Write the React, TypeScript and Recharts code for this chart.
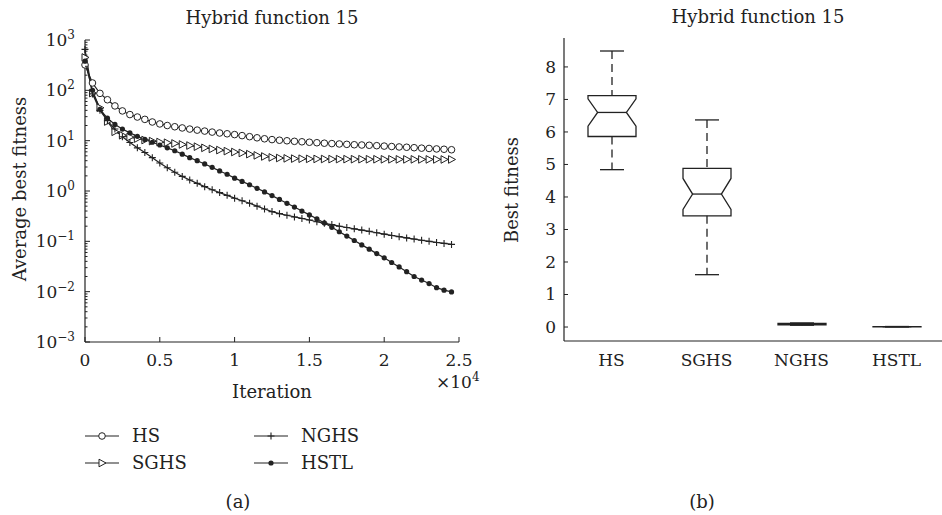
import React from 'react'
import { LineChart, Line, XAxis, YAxis, ComposedChart, Bar } from 'recharts'

// (a) convergence curves, one point every 500 iterations
const iterations = [
  0, 500, 1000, 1500, 2000, 2500, 3000, 3500, 4000, 4500,
  5000, 5500, 6000, 6500, 7000, 7500, 8000, 8500, 9000, 9500,
  10000, 10500, 11000, 11500, 12000, 12500, 13000, 13500, 14000, 14500,
  15000, 15500, 16000, 16500, 17000, 17500, 18000, 18500, 19000, 19500,
  20000, 20500, 21000, 21500, 22000, 22500, 23000, 23500, 24000, 24500,
]
const hsFitness = [
  320, 140, 87, 65, 49, 39, 33, 29.5, 26.5, 23.5,
  21.5, 20, 18.9, 17.9, 17, 16.2, 15.5, 14.8, 14.2, 13.7,
  13.2, 12.6, 12, 11.4, 10.9, 10.5, 10.2, 9.95, 9.7, 9.5,
  9.3, 9.1, 8.9, 8.75, 8.6, 8.45, 8.3, 8.2, 8.1, 7.95,
  7.8, 7.65, 7.5, 7.4, 7.25, 7.1, 7, 6.85, 6.75, 6.6,
]
const sghsFitness = [
  450, 88, 45, 24, 15, 12.8, 11.8, 11, 10.3, 9.8,
  9.4, 9.1, 8.8, 8.4, 8, 7.6, 7.2, 6.85, 6.5, 6.2,
  5.95, 5.7, 5.4, 5.1, 4.85, 4.65, 4.52, 4.45, 4.4, 4.38,
  4.35, 4.33, 4.32, 4.3, 4.3, 4.29, 4.28, 4.28, 4.27, 4.27,
  4.26, 4.26, 4.25, 4.25, 4.25, 4.24, 4.24, 4.24, 4.23, 4.23,
]
const nghsFitness = [
  650, 85, 40, 25, 17, 12, 9.2, 7.2, 5.8, 4.6,
  3.6, 2.9, 2.35, 1.95, 1.65, 1.42, 1.22, 1.06, 0.93, 0.82,
  0.72, 0.64, 0.57, 0.5, 0.44, 0.39, 0.355, 0.33, 0.305, 0.285,
  0.265, 0.245, 0.228, 0.215, 0.2, 0.188, 0.177, 0.167, 0.158, 0.148,
  0.139, 0.131, 0.124, 0.117, 0.111, 0.105, 0.1, 0.095, 0.091, 0.087,
]
const hstlFitness = [
  380, 100, 42, 28, 21, 17, 14.3, 12.2, 10.6, 9.3,
  8.2, 7.2, 6.3, 5.4, 4.6, 4, 3.45, 2.95, 2.5, 2.15,
  1.8, 1.55, 1.33, 1.13, 0.96, 0.81, 0.68, 0.57, 0.48, 0.4,
  0.335, 0.28, 0.232, 0.19, 0.155, 0.127, 0.104, 0.085, 0.07, 0.057,
  0.047, 0.038, 0.031, 0.025, 0.02, 0.017, 0.0145, 0.012, 0.0107, 0.0099,
]

const iterationTicks = [0, 5000, 10000, 15000, 20000, 25000]
const iterationTickLabels = ['0', '0.5', '1', '1.5', '2', '2.5']
const decadeTicks = [0.001, 0.01, 0.1, 1, 10, 100, 1000]
const decadeExponents = ['−3', '−2', '−1', '0', '1', '2', '3']
const minorSteps = [2, 3, 4, 5, 6, 7, 8, 9]

// (b) box plot of best fitness
const boxNames = ['HS', 'SGHS', 'NGHS', 'HSTL']
const boxMin = [4.84, 1.61, 0.055, 0.004]
const boxQ1 = [5.86, 3.42, 0.07, 0.007]
const boxNotchLow = [6.18, 3.62, 0.08, 0.009]
const boxMedian = [6.6, 4.09, 0.09, 0.01]
const boxNotchHigh = [7.02, 4.57, 0.1, 0.011]
const boxQ3 = [7.12, 4.88, 0.11, 0.013]
const boxMax = [8.49, 6.37, 0.125, 0.016]
const fitnessTicks = [0, 1, 2, 3, 4, 5, 6, 7, 8]

const FONT = '"DejaVu Serif", serif'
const INK = '#222'
const FS = 18
const TICK_FS = 17

const minorTicks = decadeTicks
  .slice(0, -1)
  .flatMap((d) => minorSteps.map((m) => +(m * d).toPrecision(3)))
const allLogTicks = [...decadeTicks, ...minorTicks]

const lineData = iterations.map((it, i) => ({
  it,
  HS: hsFitness[i],
  SGHS: sghsFitness[i],
  NGHS: nghsFitness[i],
  HSTL: hstlFitness[i],
}))

const boxData = boxNames.map((name, i) => ({
  name,
  min: boxMin[i],
  q1: boxQ1[i],
  notchLow: boxNotchLow[i],
  median: boxMedian[i],
  notchHigh: boxNotchHigh[i],
  q3: boxQ3[i],
  max: boxMax[i],
}))

// markers
const circleMark = (cx: number, cy: number, key?: string) => (
  <circle key={key} cx={cx} cy={cy} r={3.3} fill="#fff" stroke={INK} strokeWidth={1} />
)
const triangleMark = (cx: number, cy: number, key?: string) => (
  <path
    key={key}
    d={`M${cx - 3},${cy - 3.8}L${cx + 4},${cy}L${cx - 3},${cy + 3.8}Z`}
    fill="#fff"
    stroke={INK}
    strokeWidth={1}
  />
)
const plusMark = (cx: number, cy: number, key?: string) => (
  <path
    key={key}
    d={`M${cx - 3.5},${cy}H${cx + 3.5}M${cx},${cy - 3.5}V${cy + 3.5}`}
    stroke={INK}
    strokeWidth={1.1}
  />
)
const dotMark = (cx: number, cy: number, key?: string) => (
  <circle key={key} cx={cx} cy={cy} r={2.6} fill={INK} />
)

const dotFor = (mark: typeof circleMark, name: string) => (p: any) =>
  mark(p.cx, p.cy, `${name}-${p.index}`)

// ticks (all drawn inward, MATLAB style)
const LeftLogTick = ({ x, y, payload }: any) => {
  const k = decadeTicks.indexOf(payload.value)
  if (k < 0) return <line x1={x} x2={x + 2.5} y1={y} y2={y} stroke={INK} />
  return (
    <g>
      <line x1={x} x2={x + 5} y1={y} y2={y} stroke={INK} />
      <text x={x - 10} y={y} dy="0.35em" textAnchor="end" fontFamily={FONT} fontSize={TICK_FS} fill={INK}>
        10
        <tspan dy={-7} fontSize={12}>
          {decadeExponents[k]}
        </tspan>
      </text>
    </g>
  )
}
const RightLogTick = ({ x, y, payload }: any) => {
  const len = decadeTicks.includes(payload.value) ? 5 : 2.5
  return <line x1={x} x2={x - len} y1={y} y2={y} stroke={INK} />
}
const BottomIterTick = ({ x, y, payload }: any) => (
  <g>
    <line x1={x} x2={x} y1={y} y2={y - 5} stroke={INK} />
    <text x={x} y={y + 24} textAnchor="middle" fontFamily={FONT} fontSize={TICK_FS} fill={INK}>
      {iterationTickLabels[iterationTicks.indexOf(payload.value)]}
    </text>
  </g>
)
const TopIterTick = ({ x, y }: any) => <line x1={x} x2={x} y1={y} y2={y + 5} stroke={INK} />

const LeftFitTick = ({ x, y, payload }: any) => (
  <g>
    <line x1={x} x2={x + 4} y1={y} y2={y} stroke={INK} />
    <text x={x - 8} y={y} dy="0.35em" textAnchor="end" fontFamily={FONT} fontSize={TICK_FS} fill={INK}>
      {payload.value}
    </text>
  </g>
)
const RightFitTick = ({ x, y }: any) => <line x1={x} x2={x - 4} y1={y} y2={y} stroke={INK} />
const NameTick = ({ x, y, payload }: any) => (
  <text x={x} y={y + 25} textAnchor="middle" fontFamily={FONT} fontSize={TICK_FS} fill={INK}>
    {payload.value}
  </text>
)

const BoxShape = (props: any) => {
  const { x, y, width, height, payload } = props
  const top = Math.min(y, y + height)
  const bottom = Math.max(y, y + height)
  const span = payload.max - payload.min
  const toY = (v: number) => bottom - ((v - payload.min) / span) * (bottom - top)
  const cx = x + width / 2
  const q1 = toY(payload.q1)
  const q3 = toY(payload.q3)
  const med = toY(payload.median)
  const nLo = toY(payload.notchLow)
  const nHi = toY(payload.notchHigh)
  const inset = width * 0.2
  const l = x
  const r = x + width
  const cap = width / 4
  const outline = `M${l},${q3}H${r}V${nHi}L${r - inset},${med}L${r},${nLo}V${q1}H${l}V${nLo}L${l + inset},${med}L${l},${nHi}Z`
  return (
    <g stroke={INK} strokeWidth={1.3} fill="none">
      <line x1={cx} x2={cx} y1={top} y2={q3} strokeDasharray="8 5" />
      <line x1={cx} x2={cx} y1={q1} y2={bottom} strokeDasharray="8 5" />
      <line x1={cx - cap} x2={cx + cap} y1={top} y2={top} />
      <line x1={cx - cap} x2={cx + cap} y1={bottom} y2={bottom} />
      <path d={outline} />
      <line x1={l + inset} x2={r - inset} y1={med} y2={med} />
    </g>
  )
}

const axisLine = { stroke: INK, strokeWidth: 1.2 }

const ConvergenceChart = () => (
  <LineChart width={484} height={515} data={lineData} margin={{ top: 40, right: 25, bottom: 143, left: 0 }}>
    <XAxis
      xAxisId="bottom"
      dataKey="it"
      type="number"
      domain={[0, 25000]}
      ticks={iterationTicks}
      interval={0}
      tickLine={false}
      tickSize={0}
      tickMargin={0}
      tick={BottomIterTick}
      axisLine={axisLine}
      height={30}
    />
    <XAxis
      xAxisId="top"
      orientation="top"
      dataKey="it"
      type="number"
      domain={[0, 25000]}
      ticks={iterationTicks}
      interval={0}
      tickLine={false}
      tickSize={0}
      tickMargin={0}
      tick={TopIterTick}
      axisLine={axisLine}
      height={0}
    />
    <YAxis
      yAxisId="left"
      scale="log"
      type="number"
      domain={[0.001, 1000]}
      allowDataOverflow
      ticks={allLogTicks}
      interval={0}
      tickLine={false}
      tickSize={0}
      tickMargin={0}
      tick={LeftLogTick}
      axisLine={axisLine}
      width={85}
    />
    <YAxis
      yAxisId="right"
      orientation="right"
      scale="log"
      type="number"
      domain={[0.001, 1000]}
      allowDataOverflow
      ticks={allLogTicks}
      interval={0}
      tickLine={false}
      tickSize={0}
      tickMargin={0}
      tick={RightLogTick}
      axisLine={axisLine}
      width={0}
    />
    <Line xAxisId="bottom" yAxisId="left" dataKey="HS" type="linear" stroke={INK} strokeWidth={1.2}
      dot={dotFor(circleMark, 'hs')} activeDot={false} isAnimationActive={false} />
    <Line xAxisId="bottom" yAxisId="left" dataKey="SGHS" type="linear" stroke={INK} strokeWidth={1.2}
      dot={dotFor(triangleMark, 'sghs')} activeDot={false} isAnimationActive={false} />
    <Line xAxisId="bottom" yAxisId="left" dataKey="NGHS" type="linear" stroke={INK} strokeWidth={1.2}
      dot={dotFor(plusMark, 'nghs')} activeDot={false} isAnimationActive={false} />
    <Line xAxisId="bottom" yAxisId="left" dataKey="HSTL" type="linear" stroke={INK} strokeWidth={1.2}
      dot={dotFor(dotMark, 'hstl')} activeDot={false} isAnimationActive={false} />
  </LineChart>
)

const BoxChart = () => (
  <ComposedChart width={474} height={515} data={boxData} margin={{ top: 38, right: 0, bottom: 144, left: 0 }}>
    <XAxis
      xAxisId="bottom"
      dataKey="name"
      type="category"
      interval={0}
      tickLine={false}
      tickSize={0}
      tickMargin={0}
      tick={NameTick}
      axisLine={axisLine}
      height={30}
    />
    <XAxis xAxisId="top" orientation="top" dataKey="name" tick={false} tickLine={false} axisLine={axisLine} height={0} />
    <YAxis
      yAxisId="left"
      type="number"
      domain={[-0.43, 8.89]}
      ticks={fitnessTicks}
      interval={0}
      tickLine={false}
      tickSize={0}
      tickMargin={0}
      tick={LeftFitTick}
      axisLine={axisLine}
      width={94}
    />
    <YAxis
      yAxisId="right"
      orientation="right"
      type="number"
      domain={[-0.43, 8.89]}
      ticks={fitnessTicks}
      interval={0}
      tickLine={false}
      tickSize={0}
      tickMargin={0}
      tick={RightFitTick}
      axisLine={axisLine}
      width={0}
    />
    <Bar
      xAxisId="bottom"
      yAxisId="left"
      dataKey={(d: any) => [d.min, d.max]}
      barSize={48}
      shape={BoxShape}
      isAnimationActive={false}
    />
  </ComposedChart>
)

const legendRows = [
  { label: 'HS', mark: circleMark, x: 85, y: 436 },
  { label: 'SGHS', mark: triangleMark, x: 85, y: 463 },
  { label: 'NGHS', mark: plusMark, x: 254, y: 436 },
  { label: 'HSTL', mark: dotMark, x: 254, y: 463 },
]

const txt = { fontFamily: FONT, fontSize: FS, fill: INK }

export default function App() {
  return (
    <div style={{ position: 'fixed', left: 0, top: 0, width: 942, height: 515, overflow: 'hidden', background: '#fff' }}>
      <div style={{ position: 'absolute', left: 0, top: 0 }}>
        <ConvergenceChart />
      </div>
      <div style={{ position: 'absolute', left: 470, top: 0 }}>
        <BoxChart />
      </div>
      <svg width={942} height={515} style={{ position: 'absolute', left: 0, top: 0, pointerEvents: 'none' }}>
        <text x={272} y={18} dy="0.35em" textAnchor="middle" {...txt}>Hybrid function 15</text>
        <text x={758} y={17} dy="0.35em" textAnchor="middle" {...txt}>Hybrid function 15</text>
        <text transform="translate(20,189) rotate(-90)" dy="0.35em" textAnchor="middle" {...txt}>
          Average best fitness
        </text>
        <text transform="translate(512,190) rotate(-90)" dy="0.35em" textAnchor="middle" {...txt}>
          Best fitness
        </text>
        <text x={272} y={392} dy="0.35em" textAnchor="middle" {...txt}>Iteration</text>
        <text x={436} y={388} fontFamily={FONT} fontSize={TICK_FS} fill={INK}>
          ×10
          <tspan dy={-7} fontSize={12}>4</tspan>
        </text>
        {legendRows.map((row) => (
          <g key={row.label}>
            <line x1={row.x} x2={row.x + 34} y1={row.y} y2={row.y} stroke={INK} strokeWidth={1.1} />
            {row.mark(row.x + 17, row.y)}
            <text x={row.x + 47} y={row.y} dy="0.35em" {...txt}>{row.label}</text>
          </g>
        ))}
        <text x={238} y={502} dy="0.35em" textAnchor="middle" {...txt}>(a)</text>
        <text x={702} y={502} dy="0.35em" textAnchor="middle" {...txt}>(b)</text>
      </svg>
    </div>
  )
}
